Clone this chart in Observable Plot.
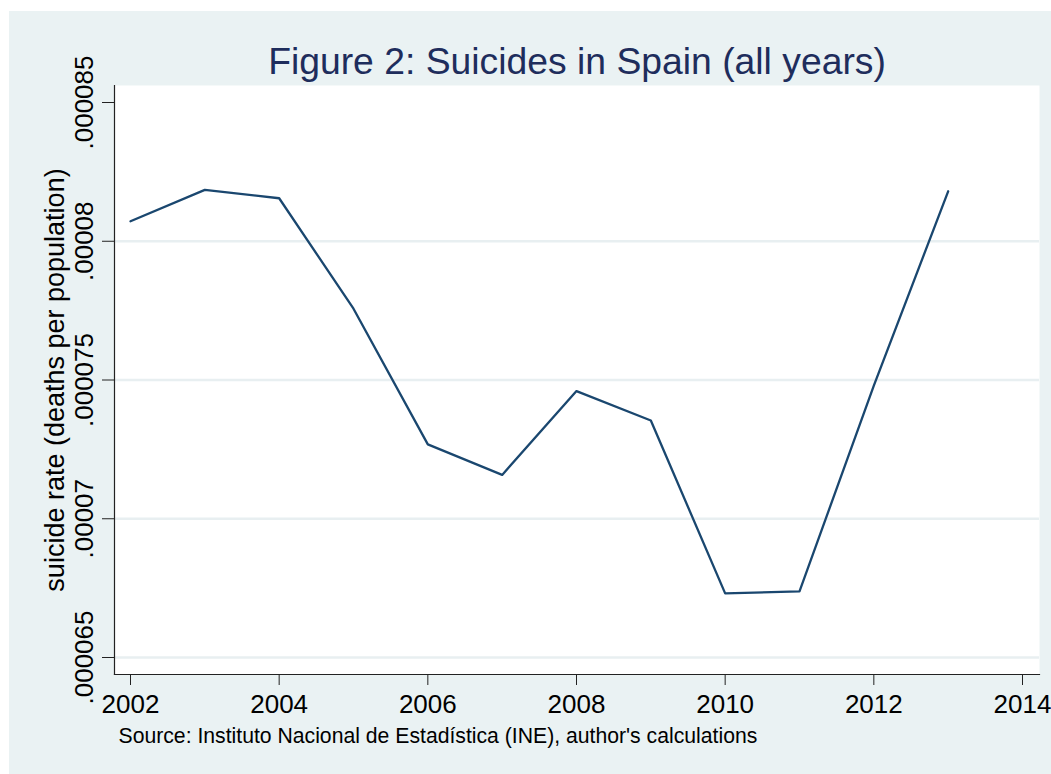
<!DOCTYPE html>
<html>
<head>
<meta charset="utf-8">
<script src="https://cdn.jsdelivr.net/npm/d3@7"></script>
<script src="https://cdn.jsdelivr.net/npm/@observablehq/plot@0.6"></script>
<style>
  html, body { margin: 0; padding: 0; background: #ffffff; }
  #wrap { position: relative; width: 1051px; height: 774px; background: #ffffff; overflow: hidden; }
  #bg { position: absolute; left: 9px; top: 11px; right: 0; bottom: 0; background: #EAF2F3; }
  #chart { position: absolute; left: 0; top: 0; }
</style>
</head>
<body>
<div id="wrap"><div id="bg"></div><div id="chart"></div></div>
<script>
// ---- data ----
const years = [2002, 2003, 2004, 2005, 2006, 2007, 2008, 2009, 2010, 2011, 2012, 2013];
const rates = [0.00008072, 0.00008185, 0.00008155, 0.00007757, 0.00007268, 0.00007158,
               0.0000746, 0.00007354, 0.00006731, 0.00006738, 0.0000748, 0.0000818];
const xTicks = [2002, 2004, 2006, 2008, 2010, 2012, 2014];
const yTicks = [0.000065, 0.00007, 0.000075, 0.00008, 0.000085];
const yTickLabels = [".000065", ".00007", ".000075", ".00008", ".000085"];
const gridTicks = [0.000065, 0.00007, 0.000075, 0.00008];
const titleText = "Figure 2: Suicides in Spain (all years)";
const yLabel = "suicide rate (deaths per population)";
const captionText = "Source: Instituto Nacional de Estadística (INE), author's calculations";

const data = years.map((y, i) => ({year: y, rate: rates[i]}));

const font = "'Liberation Sans', Arial, Helvetica, sans-serif";
const navy = "#1A476F";

const chart = Plot.plot({
  width: 1051,
  height: 774,
  marginLeft: 114,
  marginRight: 12,
  marginTop: 85,
  marginBottom: 100,
  style: {fontFamily: font, background: "transparent", overflow: "visible", color: "#000"},
  x: {domain: [2002, 2014], insetLeft: 16, insetRight: 17},
  y: {domain: [0.000065, 0.000085], insetTop: 17, insetBottom: 17},
  marks: [
    Plot.frame({fill: "white", stroke: null}),
    Plot.ruleY(gridTicks, {stroke: "#E8EFF1", strokeWidth: 2.5}),
    Plot.frame({anchor: "left", stroke: "#222", strokeWidth: 1.2}),
    Plot.frame({anchor: "bottom", stroke: "#222", strokeWidth: 1.2}),
    Plot.axisX({
      ticks: xTicks, tickFormat: d => String(d), tickSize: 11, tickPadding: 9,
      fontSize: 26, label: null, stroke: "#222", fill: "#000"
    }),
    Plot.axisY({
      ticks: yTicks, tickFormat: d => yTickLabels[yTicks.indexOf(d)],
      tickSize: 12, tickPadding: 10, tickRotate: -90,
      fontSize: 26, label: null, stroke: "#222", fill: "#000"
    }),
    Plot.text([yLabel], {
      frameAnchor: "left", dx: -51, rotate: -90, textAnchor: "middle",
      lineAnchor: "bottom", fontSize: 27, fill: "#000"
    }),
    Plot.text([titleText], {
      frameAnchor: "top", dy: -12, lineAnchor: "bottom", textAnchor: "middle",
      fontSize: 37.3, fill: "#1E2D5C"
    }),
    Plot.text([captionText], {
      frameAnchor: "bottom-left", dx: 4, dy: 68, lineAnchor: "bottom", textAnchor: "start",
      fontSize: 21.2, fill: "#000"
    }),
    Plot.line(data, {x: "year", y: "rate", stroke: navy, strokeWidth: 2.3})
  ]
});
document.getElementById("chart").appendChild(chart);
</script>
</body>
</html>
